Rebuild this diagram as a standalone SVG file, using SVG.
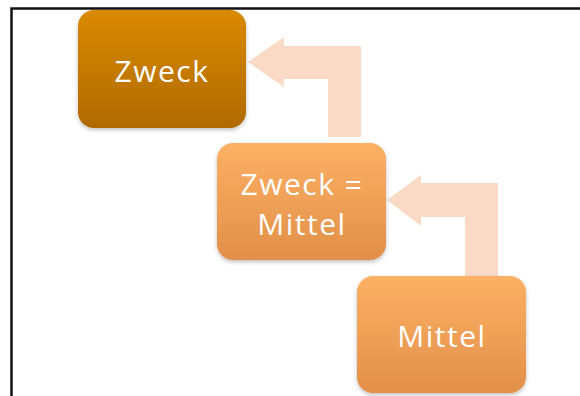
<svg xmlns="http://www.w3.org/2000/svg" width="580" height="396" viewBox="0 0 580 396">
<defs>
<linearGradient id="gDark" x1="0" y1="0" x2="0" y2="1">
<stop offset="0" stop-color="#DA8A02"/>
<stop offset="1" stop-color="#B06A05"/>
</linearGradient>
<linearGradient id="gLight" x1="0" y1="0" x2="0" y2="1">
<stop offset="0" stop-color="#FCB165"/>
<stop offset="1" stop-color="#E28F48"/>
</linearGradient>
<filter id="sh" x="-10%" y="-10%" width="120%" height="130%">
<feGaussianBlur in="SourceAlpha" stdDeviation="2"/>
<feOffset dy="2"/>
<feComponentTransfer><feFuncA type="linear" slope="0.25"/></feComponentTransfer>
<feMerge><feMergeNode/><feMergeNode in="SourceGraphic"/></feMerge>
</filter>
</defs>
<style>
.lbl{font-family:"Open Sans","Liberation Sans",sans-serif;font-size:30px;letter-spacing:1.5px;fill:#FFFFFF;text-anchor:middle}
.arr{fill:#FAD6BE;opacity:0.9}
.frame{stroke:#111;stroke-width:2.5;fill:none}
</style>
<rect width="580" height="396" fill="#FFFFFF"/>
<path class="frame" d="M11.5 396 V8.5 H580"/>
<g id="connectors">
<path class="arr" d="M361 137 V46 H284 V37 L248 62 L284 87 V79 H328 V137 Z"/>
<path class="arr" d="M498 276 V183 H421 V175 L387 200 L421 226 V217 H465 V276 Z"/>
</g>
<g id="node-zweck">
<rect x="78" y="10" width="168" height="118" rx="16" fill="url(#gDark)" filter="url(#sh)"/>
<text class="lbl" x="162" y="82">Zweck</text>
</g>
<g id="node-zweck-mittel">
<rect x="217" y="143" width="169" height="117" rx="16" fill="url(#gLight)" filter="url(#sh)"/>
<text class="lbl" x="302" y="195">Zweck =</text>
<text class="lbl" x="302" y="235">Mittel</text>
</g>
<g id="node-mittel">
<rect x="357" y="276" width="169" height="117" rx="16" fill="url(#gLight)" filter="url(#sh)"/>
<text class="lbl" x="442" y="347">Mittel</text>
</g>
</svg>
